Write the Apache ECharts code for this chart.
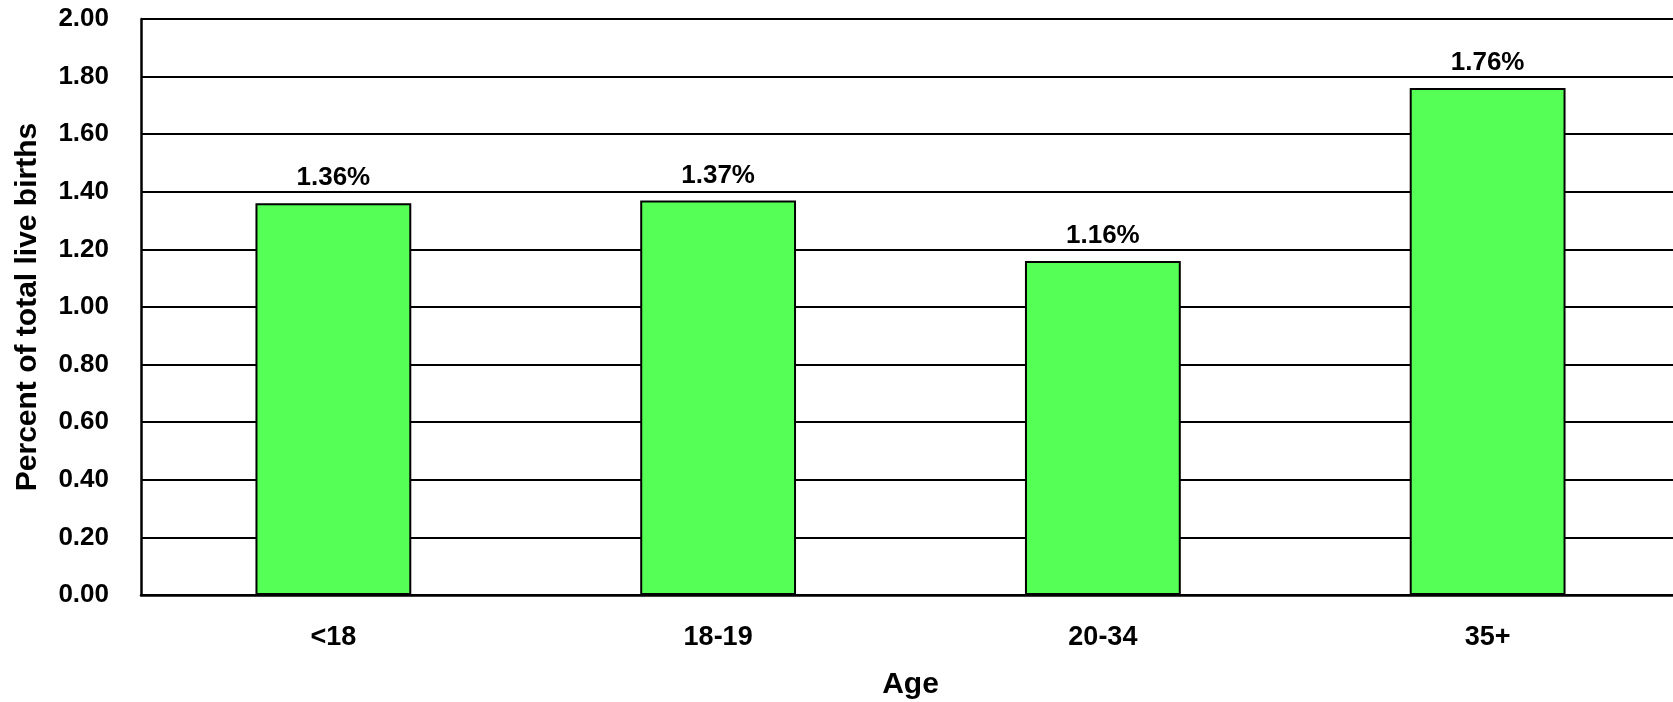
<!DOCTYPE html>
<html>
<head>
<meta charset="utf-8">
<script src="https://cdn.jsdelivr.net/npm/echarts@6/dist/echarts.min.js"></script>
<style>
  html, body { margin: 0; padding: 0; background: #fff; }
  #chart { width: 1673px; height: 702px; }
</style>
</head>
<body>
<div id="chart"></div>
<script>
// age groups and percent of total live births
const ageGroups = ['<18', '18-19', '20-34', '35+'];
const percentValues = [1.36, 1.37, 1.16, 1.76];
const yMin = 0, yMax = 2, yStep = 0.2;

const font = 'Liberation Sans, Arial, sans-serif';

let myChart = echarts.init(document.getElementById('chart'));
myChart.setOption({
  backgroundColor: '#ffffff',
  animation: false,
  grid: { left: 141, top: 19, width: 1539, bottom: 107, outerBoundsMode: 'none', containLabel: false },
  xAxis: [{
    type: 'category',
    data: ageGroups,
    name: 'Age',
    nameLocation: 'middle',
    nameGap: 75,
    nameTextStyle: { fontFamily: font, fontWeight: 'bold', fontSize: 30, color: '#000' },
    axisLine: { lineStyle: { color: '#000', width: 2.5 } },
    axisTick: { inside: true, length: 7, lineStyle: { color: '#000', width: 2 } },
    axisLabel: { margin: 29, fontFamily: font, fontWeight: 'bold', fontSize: 27, color: '#000' }
  }, {
    // second axis only for the ticks under the bar centres
    type: 'category',
    data: ageGroups,
    position: 'bottom',
    z: 10,
    axisLine: { show: false },
    axisTick: { inside: true, alignWithLabel: true, length: 7, lineStyle: { color: '#000', width: 2 } },
    axisLabel: { show: false }
  }],
  yAxis: {
    type: 'value',
    min: yMin,
    max: yMax,
    interval: yStep,
    name: 'Percent of total live births',
    nameLocation: 'middle',
    nameGap: 98,
    nameTextStyle: { fontFamily: font, fontWeight: 'bold', fontSize: 30, color: '#000' },
    axisLine: { show: true, lineStyle: { color: '#000', width: 2.5 } },
    axisTick: { show: true, inside: true, length: 7, lineStyle: { color: '#000', width: 2 } },
    axisLabel: {
      margin: 32,
      fontFamily: font, fontWeight: 'bold', fontSize: 26, color: '#000',
      formatter: v => v.toFixed(2)
    },
    splitLine: { show: true, lineStyle: { color: '#000', width: 2 } }
  },
  series: [{
    type: 'bar',
    data: percentValues,
    barWidth: '40.5%',
    itemStyle: { color: '#55ff55', borderColor: '#000', borderWidth: 2 },
    label: {
      show: true,
      position: 'top',
      distance: 12,
      fontFamily: font, fontWeight: 'bold', fontSize: 26, color: '#000',
      formatter: p => p.value.toFixed(2) + '%'
    }
  }]
});
</script>
</body>
</html>
